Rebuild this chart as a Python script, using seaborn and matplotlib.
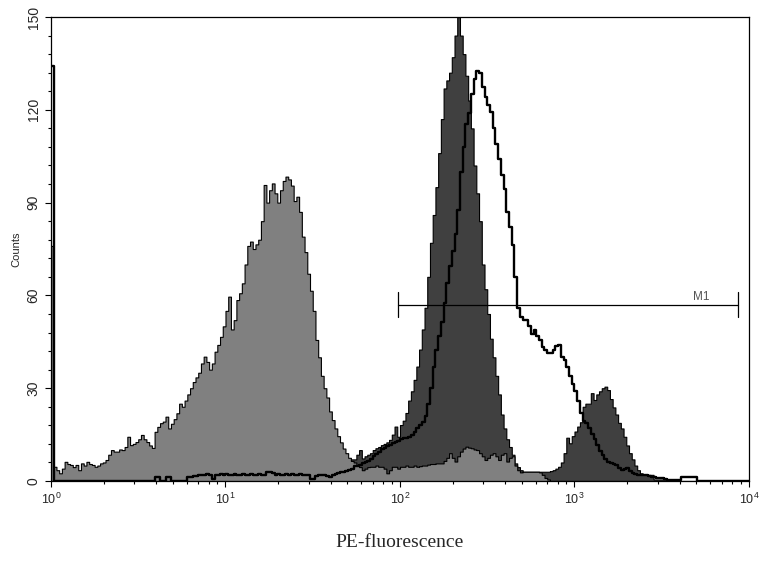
import numpy as np
import matplotlib
matplotlib.use("Agg")
import matplotlib.pyplot as plt
from matplotlib.ticker import LogLocator, FixedLocator, MultipleLocator, NullFormatter
import seaborn as sns

# 256 log channels over 4 decades (64 per decade), counts
n_channels = 256
channel = np.arange(n_channels)
fluor = 10 ** ((channel + 0.5) / 64)

# light grey filled histogram
control_counts = [
    76, 4.6, 3.5, 2.5, 4, 6.2, 5.5, 5.2, 4.5, 5.2, 3.5, 5.7, 5, 6.2, 5.5, 5.2,
    4.6, 5, 5.7, 6, 6.8, 8.5, 10, 9.5, 9.5, 10.2, 10, 11, 14.3, 11.6, 12, 12.6,
    13.5, 14.9, 13.5, 12.6, 11.5, 10.7, 15.9, 17.5, 18.7, 19.2, 20.8, 17, 18.5, 20, 21.9, 25,
    24, 26, 28, 30, 32, 33.5, 35, 38, 40.2, 38.5, 36, 38, 41.8, 44, 46.6, 50,
    55, 59.6, 49, 52, 58.5, 60.7, 63.9, 70, 76, 77.4, 75, 76.5, 78, 84, 95.7, 90,
    94, 96.2, 93, 90, 94, 97, 98.4, 97.5, 95.5, 90.5, 91.9, 87, 79, 74, 67, 61.5,
    55, 45.6, 40, 34, 30, 27, 22.5, 19.7, 17, 14.5, 12.5, 10.5, 9, 7.5, 6.5, 6,
    5, 4.5, 3.5, 4, 4.5, 4.6, 4.6, 5, 4.6, 4.6, 4, 2.5, 3.5, 4.6, 4.6, 4,
    4.6, 4.6, 5, 4.6, 4.6, 5, 4.6, 4.8, 5, 5, 5.3, 5.5, 5.5, 5.7, 5.7, 5.7,
    6.5, 7.5, 9, 7.5, 6.3, 8, 9.5, 10.5, 11.1, 10.8, 10.6, 10.2, 10, 9, 8, 6.8,
    7.5, 8.5, 9, 8, 6.8, 8.5, 9, 6.3, 7.5, 8, 5, 3.5, 2.8, 3, 3, 3,
    3, 3, 3, 2.8, 2, 1, 0.5, 0, 0, 0, 0, 0, 0, 0, 0, 0,
    0, 0, 0, 0, 0, 0, 0, 0, 0, 0, 0, 0, 0, 0, 0, 0,
    0, 0, 0, 0, 0, 0, 0, 0, 0, 0, 0, 0, 0, 0, 0, 0,
    0, 0, 0, 0, 0, 0, 0, 0, 0, 0, 0, 0, 0, 0, 0, 0,
    0, 0, 0, 0, 0, 0, 0, 0, 0, 0, 0, 0, 0, 0, 0, 0,
]

# dark grey filled histogram
sample_counts = [
    0, 0, 0, 0, 0, 0, 0, 0, 0, 0, 0, 0, 0, 0, 0, 0,
    0, 0, 0, 0, 0, 0, 0, 0, 0, 0, 0, 0, 0, 0, 0, 0,
    0, 0, 0, 0, 0, 0, 0, 0, 0, 0, 0, 0, 0, 0, 0, 0,
    0, 0, 0, 0, 0, 0, 0, 0, 0, 0, 0, 0, 0, 0, 0, 0,
    0, 0, 0, 0, 0, 0, 0, 0, 0, 0, 0, 0, 0, 0, 0, 0,
    0, 0, 0, 0, 0, 0, 0, 0, 0, 0, 0, 0, 0, 0, 0, 0,
    0, 0, 0, 0, 1, 1.5, 2, 2.5, 3, 3.5, 4, 5, 5.5, 6.5, 7, 7,
    8.5, 10, 7.3, 8, 8.5, 9, 10, 10.6, 11, 11.6, 12, 12.5, 13.3, 15, 17.6, 14.3,
    18.1, 19.5, 22, 26, 29, 32.7, 37, 42.5, 49, 56, 66, 77, 86, 95, 106, 117,
    126.9, 129.5, 132, 137, 144, 150, 144, 138, 131, 123, 114, 102, 93, 84, 70, 62,
    54, 46, 40, 34, 28, 21.5, 17, 13.5, 11, 8.5, 5.7, 4.5, 3.5, 3, 3, 3,
    3, 3, 3, 3, 3, 3, 3, 3.2, 3.5, 4, 4.6, 6, 9, 14, 12.2, 14.5,
    16, 17.6, 19, 24, 25, 25, 28.4, 26.2, 28, 29, 30, 30.5, 29.4, 26.5, 23.8, 21.5,
    18.8, 17, 14.3, 11.5, 9, 7, 5, 3.5, 2.5, 2, 2, 2, 2, 0.5, 0.5, 0.5,
    0.5, 0.5, 0.5, 0.5, 0.5, 0, 0, 0, 0, 0, 0, 0, 0, 0, 0, 0,
    0, 0, 0, 0, 0, 0, 0, 0, 0, 0, 0, 0, 0, 0, 0, 0,
]

# open black histogram
open_counts = [
    134, 0, 0, 0, 0, 0, 0, 0, 0, 0, 0, 0, 0, 0, 0, 0,
    0, 0, 0, 0, 0, 0, 0, 0, 0, 0, 0, 0, 0, 0, 0, 0,
    0, 0, 0, 0, 0, 0, 1.3, 1.3, 0, 0, 1.3, 1.3, 0, 0, 0, 0,
    0, 0, 1.3, 1.3, 1.5, 1.5, 1.9, 1.9, 1.9, 2.3, 1.9, 0.5, 1.9, 1.9, 2.2, 1.9,
    2.2, 1.9, 1.9, 2.2, 1.9, 1.9, 2.2, 1.9, 1.9, 2.2, 1.9, 1.9, 2.2, 1.9, 1.9, 3,
    3, 2.5, 1.9, 2.2, 1.9, 1.9, 2.2, 1.9, 2.2, 1.9, 1.9, 2.2, 1.9, 1.9, 1.9, 0.5,
    0.5, 1.5, 1.9, 1.9, 1.9, 1.6, 1.4, 1.9, 2.2, 2.5, 3, 3, 3.2, 3.5, 4, 4.8,
    5, 5.2, 5.7, 6.3, 6.5, 7.2, 8, 8.8, 9.5, 10.2, 10.8, 11.3, 11.6, 12.2, 12.7, 13,
    13.5, 13.8, 14, 14.3, 15, 16, 17, 18, 19.2, 21, 25, 30, 37, 42.5, 47, 51.5,
    57.5, 64, 69.5, 74.5, 80, 87.5, 99.8, 108, 115.5, 119, 125, 129.8, 132.6, 132, 127.5, 124,
    121.5, 119.4, 114, 109, 104, 99, 94.5, 87, 82, 76.2, 66, 56, 53, 52, 52, 50,
    47.5, 48.8, 47, 45.6, 43.4, 42.5, 41.3, 41.5, 42.4, 43.5, 44, 40.2, 39, 37, 34, 31.5,
    29, 26, 22, 19.5, 18.7, 17, 15.2, 13.5, 11.8, 9.8, 8.3, 7, 6.3, 5.7, 5.5, 5.2,
    4.2, 3.5, 3.8, 4.1, 3.2, 2.5, 2.3, 2, 2, 2, 2, 1.7, 1.4, 1.2, 1, 1,
    1, 0.5, 0.3, 0.3, 0.3, 0.3, 0.3, 1.4, 1.4, 1.4, 1.4, 1.4, 1.2, 0, 0, 0,
    0, 0, 0, 0, 0, 0, 0, 0, 0, 0, 0, 0, 0, 0, 0, 0,
]

# M1 gate
m1_range = [97, 8690]
m1_level = 57
m1_label_x = 5350

sns.set_style("ticks")
plt.rcParams['font.family'] = ['Liberation Sans', 'DejaVu Sans']
plt.rcParams['mathtext.fontset'] = 'custom'
plt.rcParams['mathtext.rm'] = 'Liberation Sans'

fig = plt.figure(figsize=(7.61, 5.63), dpi=100)
ax = fig.add_axes([0.0670, 0.1456, 0.9172, 0.8242])

hist_kw = dict(bins=n_channels, binrange=(0, 4), log_scale=True, element='step', ax=ax)
sns.histplot(x=fluor, weights=sample_counts, fill=True, color='#404040', alpha=1,
             edgecolor='black', linewidth=0.8, **hist_kw)
sns.histplot(x=fluor, weights=control_counts, fill=True, color='#808080', alpha=1,
             edgecolor='black', linewidth=0.8, **hist_kw)
sns.histplot(x=fluor, weights=open_counts, fill=False, color='black', linewidth=1.7, **hist_kw)

# M1 marker
ax.plot(m1_range, [m1_level, m1_level], color='black', lw=0.9)
for xv in m1_range:
    ax.plot([xv, xv], [m1_level - 4, m1_level + 4], color='black', lw=0.9)
ax.text(m1_label_x, m1_level + 2.6, 'M1', ha='center', va='center', fontsize=8.5, color='#555555')

ax.set_xlim(1, 1e4)
ax.set_ylim(0, 150)
ax.set_xticks([1, 10, 100, 1000, 10000])
ax.set_xticklabels([r'$10^0$', r'$10^1$', r'$10^2$', r'$10^3$', r'$10^4$'])
ax.xaxis.set_minor_locator(LogLocator(base=10, subs=np.arange(2, 10)))
ax.xaxis.set_minor_formatter(NullFormatter())
ax.yaxis.set_major_locator(FixedLocator([0, 30, 60, 90, 120, 150]))
ax.yaxis.set_minor_locator(MultipleLocator(6))
ax.tick_params(axis='both', which='major', length=4, width=0.8, color='black')
ax.tick_params(axis='x', which='major', labelsize=9)
ax.tick_params(axis='y', which='major', labelsize=10)
ax.tick_params(axis='both', which='minor', length=2.5, width=0.8, color='black')
for lab in ax.get_yticklabels():
    lab.set_rotation(90)
    lab.set_va('center')

for sp in ax.spines.values():
    sp.set_visible(True)
    sp.set_linewidth(0.9)
    sp.set_color('black')

ax.set_ylabel('Counts', fontsize=8, labelpad=4)
ax.set_xlabel('PE-fluorescence', fontsize=14, family=['Liberation Serif'], labelpad=20)

fig.savefig('out.png', dpi=100)
